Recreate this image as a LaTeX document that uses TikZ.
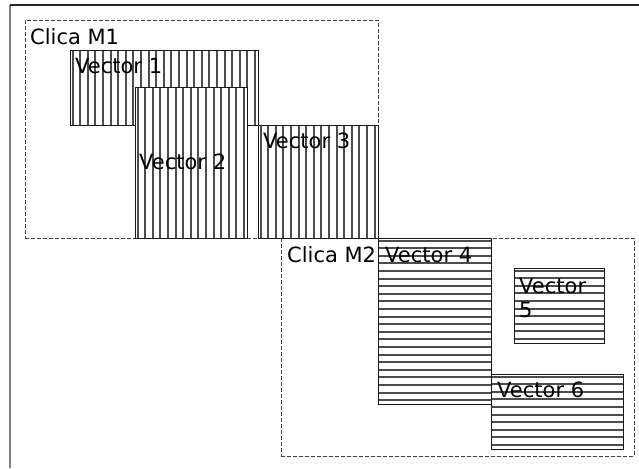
\documentclass[tikz,border=0pt]{standalone}
\usepackage{fontspec}
\setmainfont{DejaVu Sans}

\begin{document}
\begin{tikzpicture}[x=1pt, y=-1pt,
  clique/.style={rectangle, draw=black!75, dash pattern=on 4pt off 2pt, line width=0.9pt, inner sep=0pt, anchor=north west},
  stripe/.style={black!70, line width=2pt},
  vecv/.style={rectangle, draw=black!90, line width=1pt, inner sep=0pt, anchor=north west, fill=white,
    path picture={\foreach \k in {0,...,26}
      \draw[stripe] ([xshift=2pt+\k*7.6pt]path picture bounding box.north west) -- ([xshift=2pt+\k*7.6pt]path picture bounding box.south west);}},
  vech/.style={rectangle, draw=black!90, line width=1pt, inner sep=0pt, anchor=north west, fill=white,
    path picture={\foreach \k in {0,...,24}
      \draw[stripe] ([yshift=-2pt-\k*7.6pt]path picture bounding box.north west) -- ([yshift=-2pt-\k*7.6pt]path picture bounding box.north east);}},
  txt/.style={font=\fontsize{21}{24}\selectfont, inner sep=0pt, anchor=base west},
]
\useasboundingbox (0,0) rectangle (639,468);

% ── window frame ──
\draw[black!50, line width=1.5pt] (10,468) -- (10,5);
\draw[black!85, line width=1.5pt] (10,5) -- (639,5);

% ── CLIQUES ──
\node[clique, minimum width=353pt, minimum height=218pt] (m1) at (25,20) {};
\node[clique, minimum width=353pt, minimum height=218pt] (m2) at (281,238) {};

% ── CLIQUE M1: vectors 1-3 ──
\node[vecv, minimum width=188pt, minimum height=75pt] (v1) at (70,50) {};
\node[vecv, minimum width=112pt, minimum height=151pt] (v2) at (135,87) {};
\node[vecv, minimum width=120pt, minimum height=113pt] (v3) at (258,125) {};

% ── CLIQUE M2: vectors 4-6 ──
\node[vech, minimum width=113pt, minimum height=166pt] (v4) at (378,238) {};
\node[vech, minimum width=90pt, minimum height=75pt] (v5) at (514,268) {};
\node[vech, minimum width=132pt, minimum height=75pt] (v6) at (491,374) {};

% ── LABELS ──
\node[txt] (lm1) at (30,45) {Clica M1};
\node[txt] (lm2) at (287,262) {Clica M2};
\node[txt] (lv1) at (75,74) {Vector 1};
\node[txt] (lv2) at (139,169) {Vector 2};
\node[txt] (lv3) at (263,148) {Vector 3};
\node[txt] (lv4) at (385,262) {Vector 4};
\node[txt, anchor=north west, align=left] (lv5) at (519,278) {Vector\\5};
\node[txt] (lv6) at (497,397) {Vector 6};

\end{tikzpicture}
\end{document}
